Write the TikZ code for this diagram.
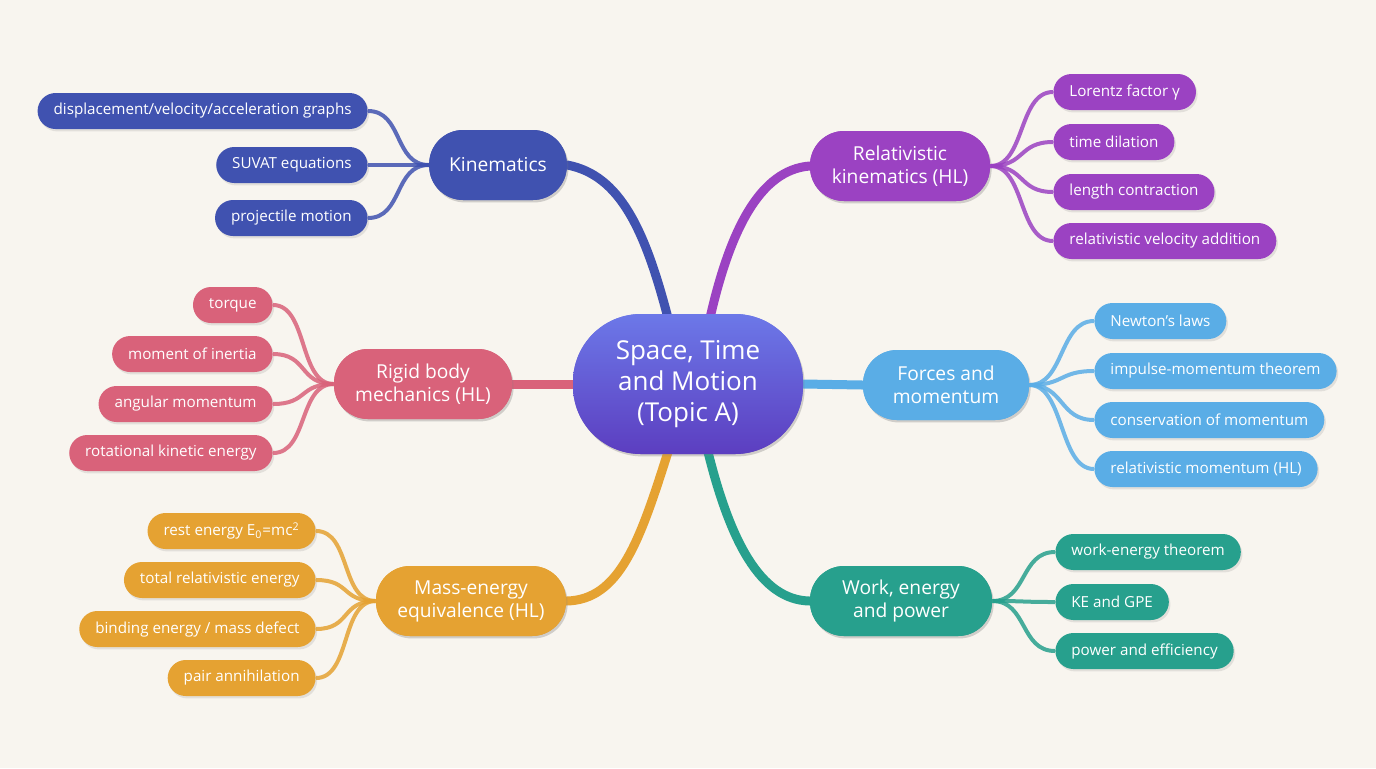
\documentclass[tikz,border=0pt]{standalone}
\usepackage{fontspec}
\setmainfont{Open Sans}
\usetikzlibrary{shadows}
\definecolor{bg}{HTML}{F8F5EF}
\definecolor{cK}{HTML}{4052B0}
\definecolor{cR}{HTML}{9B42C2}
\definecolor{cB}{HTML}{D9627A}
\definecolor{cF}{HTML}{5AADE6}
\definecolor{cM}{HTML}{E5A232}
\definecolor{cW}{HTML}{27A08D}
\definecolor{cC1}{HTML}{6C78E8}
\definecolor{cC2}{HTML}{5C3EC0}
\begin{document}
\begin{tikzpicture}[x=0.5pt,y=-0.5pt,
  box/.style={rounded corners=#1, text=white, align=center, drop shadow={opacity=0.18,shadow xshift=0.8pt,shadow yshift=-1.2pt}},
  leaf/.style={box=9pt, fill=#1, minimum height=18pt, inner xsep=8pt, font=\fontsize{7.6}{9}\selectfont},
  branch/.style={box=17pt, fill=#1, minimum height=35pt, inner xsep=10pt, font=\fontsize{9.6}{11.5}\selectfont},
  lk/.style={draw=#1, line width=2pt, opacity=0.85},
  bk/.style={draw=#1, line width=4.5pt, line cap=round},
]
\fill[bg] (0,0) rectangle (1376,768);
\useasboundingbox (0,0) rectangle (1376,768);

% center
\node[box=34pt, top color=cC1, bottom color=cC2, minimum width=115pt, minimum height=70pt,
  font=\fontsize{13}{15.5}\selectfont] (C) at (688,384) {Space, Time\\and Motion\\(Topic A)};

% branches
\node[branch=cK, minimum width=67pt] (K) at (498,165) {Kinematics};
\node[branch=cR, minimum width=90pt] (R) at (900,166) {Relativistic\\kinematics (HL)};
\node[branch=cB, minimum width=89pt] (B) at (423,384) {Rigid body\\mechanics (HL)};
\node[branch=cF, minimum width=83pt] (F) at (946,385) {Forces and\\momentum};
\node[branch=cM, minimum width=95pt] (M) at (471,601) {Mass-energy\\equivalence (HL)};
\node[branch=cW, minimum width=91pt] (W) at (901,601) {Work, energy\\and power};

% trunk connectors
\begin{scope}[on background layer/.try]
\end{scope}
\draw[bk=cK] (668,318) .. controls (645,230) and (620,175) .. (K.east);
\draw[bk=cR] (710,318) .. controls (730,230) and (760,170) .. (R.west);
\draw[bk=cB] (C.west) -- (B.east);
\draw[bk=cF] (C.east) -- (F.west);
\draw[bk=cM] (668,452) .. controls (640,540) and (620,600) .. (M.east);
\draw[bk=cW] (708,452) .. controls (730,540) and (760,600) .. (W.west);
% redraw nodes on top
\node[box=34pt, top color=cC1, bottom color=cC2, minimum width=115pt, minimum height=70pt,
  font=\fontsize{13}{15.5}\selectfont] at (688,384) {Space, Time\\and Motion\\(Topic A)};
\node[branch=cK, minimum width=67pt] at (498,165) {Kinematics};
\node[branch=cR, minimum width=90pt] at (900,166) {Relativistic\\kinematics (HL)};
\node[branch=cB, minimum width=89pt] at (423,384) {Rigid body\\mechanics (HL)};
\node[branch=cF, minimum width=83pt] at (946,385) {Forces and\\momentum};
\node[branch=cM, minimum width=95pt] at (471,601) {Mass-energy\\equivalence (HL)};
\node[branch=cW, minimum width=91pt] at (901,601) {Work, energy\\and power};

% leaves
\node[leaf=cK, anchor=east] (K1) at (368,111) {displacement/velocity/acceleration graphs};
\node[leaf=cK, anchor=east] (K2) at (368,165) {SUVAT equations};
\node[leaf=cK, anchor=east] (K3) at (368,218) {projectile motion};
\foreach \n in {K1,K2,K3} \draw[lk=cK] (K.west) .. controls +(-35,0) and +(35,0) .. (\n.east);

\node[leaf=cR, anchor=west] (R1) at (1053,92) {Lorentz factor γ};
\node[leaf=cR, anchor=west] (R2) at (1053,142) {time dilation};
\node[leaf=cR, anchor=west] (R3) at (1053,192) {length contraction};
\node[leaf=cR, anchor=west] (R4) at (1053,241) {relativistic velocity addition};
\foreach \n in {R1,R2,R3,R4} \draw[lk=cR] (R.east) .. controls +(35,0) and +(-35,0) .. (\n.west);

\node[leaf=cB, anchor=east] (B1) at (273,305) {torque};
\node[leaf=cB, anchor=east] (B2) at (273,354) {moment of inertia};
\node[leaf=cB, anchor=east] (B3) at (273,404) {angular momentum};
\node[leaf=cB, anchor=east] (B4) at (273,453) {rotational kinetic energy};
\foreach \n in {B1,B2,B3,B4} \draw[lk=cB] (B.west) .. controls +(-35,0) and +(35,0) .. (\n.east);

\node[leaf=cF, anchor=west] (F1) at (1094,321) {Newton's laws};
\node[leaf=cF, anchor=west] (F2) at (1094,371) {impulse-momentum theorem};
\node[leaf=cF, anchor=west] (F3) at (1094,420) {conservation of momentum};
\node[leaf=cF, anchor=west] (F4) at (1094,469) {relativistic momentum (HL)};
\foreach \n in {F1,F2,F3,F4} \draw[lk=cF] (F.east) .. controls +(35,0) and +(-35,0) .. (\n.west);

\node[leaf=cM, anchor=east] (M1) at (316,531) {rest energy E\textsubscript{0}=mc\textsuperscript{2}};
\node[leaf=cM, anchor=east] (M2) at (316,580) {total relativistic energy};
\node[leaf=cM, anchor=east] (M3) at (316,629) {binding energy / mass defect};
\node[leaf=cM, anchor=east] (M4) at (316,678) {pair annihilation};
\foreach \n in {M1,M2,M3,M4} \draw[lk=cM] (M.west) .. controls +(-35,0) and +(35,0) .. (\n.east);

\node[leaf=cW, anchor=west] (W1) at (1055,552) {work-energy theorem};
\node[leaf=cW, anchor=west] (W2) at (1055,602) {KE and GPE};
\node[leaf=cW, anchor=west] (W3) at (1055,651) {power and efficiency};
\foreach \n in {W1,W2,W3} \draw[lk=cW] (W.east) .. controls +(35,0) and +(-35,0) .. (\n.west);
\end{tikzpicture}
\end{document}
